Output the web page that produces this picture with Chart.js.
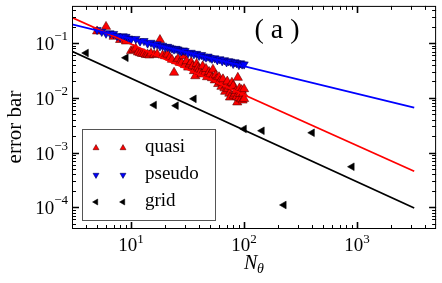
<!DOCTYPE html>
<html>
<head>
<meta charset="utf-8">
<script src="https://cdn.jsdelivr.net/npm/chart.js@4.4.0/dist/chart.umd.min.js"></script>
<style>
  body { margin: 0; background: #fff; }
  #grafica { display: block; }
</style>
</head>
<body>
<canvas id="grafica" width="442" height="283"></canvas>
<script>
// 📊 Datos
const quasiN   = [5, 6, 7, 8, 9, 10, 10.5, 11, 11.5, 12, 12.5, 13, 13.5, 14, 14.5, 15, 16, 17, 18, 19, 20, 21, 22, 23, 24, 25, 26, 27, 28, 29, 30, 31, 32, 33, 34, 35, 36, 37, 38, 39, 40, 41, 42, 43, 45, 46, 47, 49, 50, 52, 53, 55, 56, 57, 59, 60, 61, 63, 64, 65, 67, 68, 70, 71, 72, 74, 75, 77, 78, 80, 81, 83, 85, 86, 87, 88, 90, 91, 92, 94, 95, 97, 98, 100, 100];
const quasiErr = [0.165, 0.20, 0.132, 0.115, 0.108, 0.072, 0.076, 0.080, 0.068, 0.066, 0.064, 0.064, 0.061, 0.062, 0.060, 0.065, 0.061, 0.063, 0.115, 0.060, 0.058, 0.062, 0.055, 0.050, 0.029, 0.047, 0.052, 0.044, 0.044, 0.058, 0.040, 0.047, 0.036, 0.041, 0.045, 0.038, 0.031, 0.025, 0.042, 0.036, 0.033, 0.030, 0.027, 0.038, 0.029, 0.034, 0.024, 0.030, 0.027, 0.023, 0.033, 0.021, 0.026, 0.022, 0.018, 0.024, 0.020, 0.016, 0.019, 0.022, 0.015, 0.013, 0.017, 0.020, 0.0145, 0.012, 0.0102, 0.016, 0.019, 0.0166, 0.011, 0.012, 0.0135, 0.0105, 0.0083, 0.0234, 0.010, 0.015, 0.0118, 0.0095, 0.014, 0.009, 0.012, 0.0145, 0.0096];

const pseudoN   = [5, 5.5, 6, 6.5, 7, 7.5, 8, 8.5, 9, 9.5, 10, 11, 12, 13, 14, 15, 16, 17, 18, 19, 20, 21, 22, 23, 24, 25, 26, 27, 28, 29, 30, 32, 34, 36, 38, 40, 42, 44, 46, 48, 50, 52, 55, 58, 61, 64, 67, 70, 73, 76, 80, 83, 86, 90, 93, 96, 100];
const pseudoErr = [0.175, 0.162, 0.150, 0.152, 0.148, 0.136, 0.128, 0.134, 0.131, 0.122, 0.118, 0.120, 0.108, 0.110, 0.099, 0.102, 0.094, 0.096, 0.088, 0.090, 0.085, 0.086, 0.083, 0.080, 0.077, 0.079, 0.077, 0.073, 0.071, 0.074, 0.072, 0.066, 0.067, 0.063, 0.064, 0.059, 0.061, 0.057, 0.055, 0.057, 0.054, 0.052, 0.053, 0.049, 0.051, 0.047, 0.049, 0.045, 0.047, 0.046, 0.042, 0.045, 0.043, 0.040, 0.043, 0.041, 0.041];

const gridN   = [4, 9, 16, 25, 36, 100, 144, 225, 400, 900];
const gridErr = [0.066, 0.054, 0.0074, 0.0072, 0.0096, 0.0027, 0.0025, 0.00011, 0.0023, 0.00055];

// rectas de ajuste (extremos)
const fitN      = [3, 3200];
const quasiFit  = [0.294, 0.000455];
const pseudoFit = [0.22, 0.0066];
const gridFit   = [0.0709, 0.000097];

// ejes y etiquetas
const xRange = [3, 5000];
const yRange = [4e-5, 0.48];
const xTicks = [10, 100, 1000];
const xTickExp = ['1', '2', '3'];
const yTicks = [1e-1, 1e-2, 1e-3, 1e-4];
const yTickExp = ['\u22121', '\u22122', '\u22123', '\u22124'];
const legendLabels = ['quasi', 'pseudo', 'grid'];

const toPts = (xs, ys) => xs.map((v, i) => ({ x: v, y: ys[i] }));

const estilos = [
  { pointStyle: 'triangle', rotation: 0,   radius: 5.3, bg: '#ff0000', border: '#5a0000' },
  { pointStyle: 'triangle', rotation: 180, radius: 4.8, bg: '#0000ff', border: '#000050' },
  { pointStyle: 'triangle', rotation: 270, radius: 4.4, bg: '#000000', border: '#000000' }
];

const serif = "'Liberation Serif', 'DejaVu Serif', serif";

// 🧠 Marco, ticks hacia dentro, etiquetas 10^n, leyenda y textos
const marcoPlugin = {
  id: 'marco',
  afterDraw(chart) {
    const { ctx, chartArea: a, scales: { x, y } } = chart;
    ctx.save();
    ctx.strokeStyle = '#000';
    ctx.lineWidth = 1;
    ctx.strokeRect(a.left + 0.5, a.top + 0.5, a.right - a.left - 1, a.bottom - a.top - 1);

    for (let d = 0; d <= 4; d++) {
      for (let k = 1; k <= 9; k++) {
        const v = k * Math.pow(10, d);
        if (v <= xRange[0] || v >= xRange[1]) continue;
        const px = Math.round(x.getPixelForValue(v)) + 0.5;
        const len = k === 1 ? 7 : 4;
        ctx.lineWidth = k === 1 ? 1.6 : 1;
        ctx.beginPath();
        ctx.moveTo(px, a.bottom); ctx.lineTo(px, a.bottom - len);
        ctx.moveTo(px, a.top); ctx.lineTo(px, a.top + len);
        ctx.stroke();
      }
    }
    for (let d = -5; d <= 0; d++) {
      for (let k = 1; k <= 9; k++) {
        const v = k * Math.pow(10, d);
        if (v <= yRange[0] || v >= yRange[1]) continue;
        const py = Math.round(y.getPixelForValue(v)) + 0.5;
        const len = k === 1 ? 7 : 4;
        ctx.lineWidth = k === 1 ? 1.6 : 1;
        ctx.beginPath();
        ctx.moveTo(a.left, py); ctx.lineTo(a.left + len, py);
        ctx.moveTo(a.right, py); ctx.lineTo(a.right - len, py);
        ctx.stroke();
      }
    }

    // etiquetas de ticks
    ctx.fillStyle = '#000';
    ctx.textBaseline = 'alphabetic';
    xTicks.forEach((v, i) => {
      const px = x.getPixelForValue(v);
      ctx.font = '19px ' + serif;
      const w1 = ctx.measureText('10').width;
      ctx.font = '13px ' + serif;
      const w2 = ctx.measureText(xTickExp[i]).width;
      const x0 = px - (w1 + w2) / 2;
      ctx.font = '19px ' + serif;
      ctx.textAlign = 'left';
      ctx.fillText('10', x0, a.bottom + 22);
      ctx.font = '13px ' + serif;
      ctx.fillText(xTickExp[i], x0 + w1, a.bottom + 14);
    });
    yTicks.forEach((v, i) => {
      const py = y.getPixelForValue(v);
      ctx.font = '13px ' + serif;
      const w2 = ctx.measureText(yTickExp[i]).width;
      ctx.textAlign = 'right';
      ctx.fillText(yTickExp[i], a.left - 4, py - 3);
      ctx.font = '19px ' + serif;
      ctx.fillText('10', a.left - 4 - w2, py + 7);
    });

    // títulos de ejes
    ctx.font = 'italic 20px ' + serif;
    ctx.textAlign = 'left';
    ctx.fillText('N', 244, 269);
    ctx.font = 'italic 14px ' + serif;
    ctx.fillText('\u03B8', 257, 273);

    ctx.save();
    ctx.translate(21, 127);
    ctx.rotate(-Math.PI / 2);
    ctx.font = '21px ' + serif;
    ctx.textAlign = 'center';
    ctx.fillText('error bar', 0, 0);
    ctx.restore();

    ctx.font = '28px ' + serif;
    ctx.textAlign = 'center';
    ctx.fillText('( a )', 277, 38);

    // 📌 leyenda
    const lx = a.left + 10, ly = 129, lw = 133, lh = 91;
    ctx.fillStyle = '#fff';
    ctx.fillRect(lx, ly, lw, lh);
    ctx.strokeStyle = '#555';
    ctx.lineWidth = 1;
    ctx.strokeRect(lx + 0.5, ly + 0.5, lw, lh);
    legendLabels.forEach((txt, i) => {
      const ry = ly + 19 + i * 27;
      const e = estilos[i];
      ctx.fillStyle = e.bg;
      ctx.strokeStyle = e.border;
      ctx.lineWidth = 0.6;
      [lx + 14, lx + 41].forEach(mx => {
        Chart.helpers.drawPoint(ctx, { pointStyle: e.pointStyle, rotation: e.rotation, radius: 3.4, borderWidth: 0.6 }, mx, ry);
      });
      ctx.fillStyle = '#000';
      ctx.font = '19px ' + serif;
      ctx.textAlign = 'left';
      ctx.textBaseline = 'middle';
      ctx.fillText(txt, lx + 63, ry - 1);
      ctx.textBaseline = 'alphabetic';
    });
    ctx.restore();
  }
};

const lineaFit = (data, color) => ({
  type: 'line',
  data: toPts(fitN, data),
  borderColor: color,
  borderWidth: 1.8,
  pointRadius: 0,
  fill: false,
  tension: 0
});

const puntos = (xs, ys, e) => ({
  type: 'scatter',
  data: toPts(xs, ys),
  pointStyle: e.pointStyle,
  rotation: e.rotation,
  pointRadius: e.radius,
  backgroundColor: e.bg,
  borderColor: e.border,
  borderWidth: 0.6
});

new Chart(document.getElementById('grafica'), {
  type: 'scatter',
  data: {
    datasets: [
      lineaFit(pseudoFit, '#0000ff'),
      lineaFit(quasiFit, '#ff0000'),
      lineaFit(gridFit, '#000000'),
      puntos(pseudoN, pseudoErr, estilos[1]),
      puntos(quasiN, quasiErr, estilos[0]),
      puntos(gridN, gridErr, estilos[2])
    ]
  },
  options: {
    responsive: false,
    animation: false,
    layout: { padding: { left: 72, right: 5, top: 4, bottom: 54 } },
    plugins: { legend: { display: false }, tooltip: { enabled: false } },
    scales: {
      x: { type: 'logarithmic', min: xRange[0], max: xRange[1], display: false },
      y: { type: 'logarithmic', min: yRange[0], max: yRange[1], display: false }
    }
  },
  plugins: [marcoPlugin]
});
</script>
</body>
</html>
